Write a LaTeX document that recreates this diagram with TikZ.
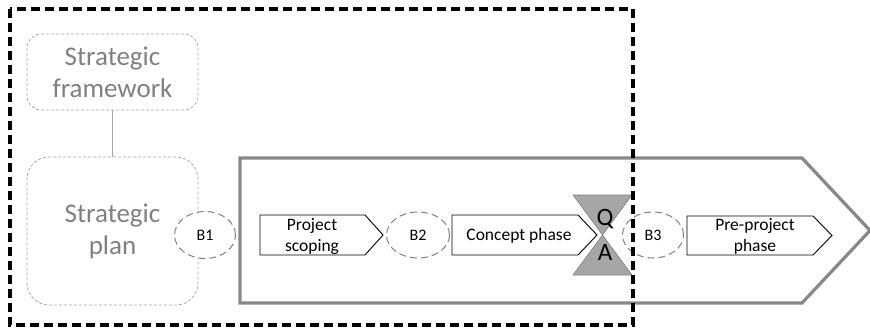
\documentclass[tikz,border=0pt]{standalone}
\usepackage{fontspec}
\setmainfont{Carlito}
\usetikzlibrary{shapes.geometric}
\definecolor{sgray}{HTML}{808080}
\definecolor{lgray}{HTML}{A8A8A8}
\definecolor{agray}{HTML}{888888}
\definecolor{hgray}{HTML}{A6A6A6}
\tikzset{
  stratbox/.style={draw=lgray, densely dashed, line width=0.8pt, rounded corners=14pt, text=sgray, align=center, font=\fontsize{27}{32}\selectfont},
  bell/.style={ellipse, draw=sgray, dash pattern=on 7pt off 4pt, line width=1pt, fill=white, font=\fontsize{16}{18}\selectfont, inner sep=0pt},
  phasetext/.style={align=center, font=\fontsize{17.5}{21}\selectfont},
  phasebox/.style={draw=black, line width=0.9pt, fill=white},
}
\begin{document}
\begin{tikzpicture}[x=1pt,y=-1pt]
\useasboundingbox (0,0) rectangle (870,329);
% strategic boxes
\node[stratbox, minimum width=171pt, minimum height=76pt] (sf) at (112.5,72) {Strategic\\framework};
\node[stratbox, minimum width=171pt, minimum height=148pt, rounded corners=22pt] (sp) at (112.5,231) {Strategic\\plan};
\draw[lgray, line width=0.8pt] (sf.south) -- (sp.north);
% big process arrow
\coordinate (a1) at (240,158);
\coordinate (a2) at (802,158);
\coordinate (a3) at (870,230.5);
\coordinate (a4) at (802,303);
\coordinate (a5) at (240,303);
\draw[agray, line width=3.2pt, line join=miter] (a1) -- (a2) -- (a3) -- (a4) -- (a5) -- cycle;
% hourglass QA
\coordinate (h1) at (573,195);
\coordinate (h2) at (632,195);
\coordinate (h3) at (573,275);
\coordinate (h4) at (632,275);
\draw[fill=hgray, draw=sgray, line width=0.6pt] (h1) -- (h2) -- (h3) -- (h4) -- cycle;
% phase boxes
\draw[phasebox] (260,215) -- (365,215) -- (383,235) -- (365,255) -- (260,255) -- cycle;
\node[phasetext] (ps) at (312,236) {Project\\scoping};
\draw[phasebox] (452,215) -- (578,215) -- (597,235) -- (578,255) -- (452,255) -- cycle;
\node[phasetext] (cp) at (519,236) {Concept phase};
\draw[phasebox] (687,216) -- (813,216) -- (832,235.5) -- (813,255) -- (687,255) -- cycle;
\node[phasetext] (pp) at (755,236) {Pre-project\\phase};
% B ellipses
\node[bell, minimum width=61pt, minimum height=47pt] (b1) at (205,235) {B1};
\node[bell, minimum width=63pt, minimum height=46pt, fill=none] (b2) at (418,235) {B2};
\node[bell, minimum width=61pt, minimum height=46pt, fill=none] (b3) at (653,235) {B3};
% Q A
\node[font=\fontsize{25}{25}\selectfont, inner sep=0pt] (q) at (605,219) {Q};
\node[font=\fontsize{25}{25}\selectfont, inner sep=0pt] (a) at (605,252) {A};
% dashed boundary
\draw[black, line width=3.2pt, dash pattern=on 9pt off 5pt] (10,9) rectangle (633,325);
\end{tikzpicture}
\end{document}
